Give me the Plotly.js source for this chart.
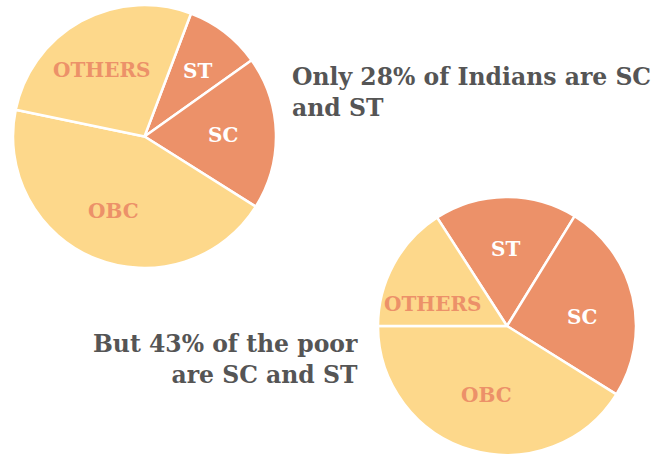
<!DOCTYPE html>
<html><head><meta charset="utf-8">
<script src="https://cdn.plot.ly/plotly-3.0.1.min.js"></script>
<style>html,body{margin:0;padding:0;background:#fff;}</style>
</head><body><div id="chart" style="width:669px;height:457px;"></div>
<script>
const categories = ["ST", "SC", "OBC", "OTHERS"];
const allIndians = [9.4, 18.8, 44.3, 27.5];
const poor = [17.9, 25.1, 41.1, 15.9];
const headline1 = "Only 28% of Indians are SC<br>and ST";
const headline2 = "But 43% of the poor<br>are SC and ST";

const orange = "#EC9169", yellow = "#FDD88B";
const colors = [orange, orange, yellow, yellow];
const labelColors = ["#ffffff", "#ffffff", orange, orange];
const fontFam = "DejaVu Serif, serif";

const W = 669, H = 457;
function dom(x0, x1, y0, y1) { return {x: [x0 / W, x1 / W], y: [1 - y1 / H, 1 - y0 / H]}; }

const base = {type: "pie", labels: categories, sort: false, direction: "clockwise",
  textinfo: "none", hoverinfo: "label+percent", showlegend: false,
  marker: {colors: colors, line: {color: "#ffffff", width: 2.5}}};

const traces = [
  Object.assign({}, base, {values: allIndians, rotation: 20.7, domain: dom(13, 276, 5, 268)}),
  Object.assign({}, base, {values: poor, rotation: -32.8, domain: dom(378, 636, 197, 455)})
];

const labelPos1 = [[197, 71], [223, 135], [113, 211], [102, 70]];
const labelPos2 = [[505, 249], [582, 317], [487, 395], [433, 304]];
const ann = [];
[labelPos1, labelPos2].forEach(pos => {
  categories.forEach((c, i) => ann.push({text: "<b>" + c + "</b>", x: pos[i][0] / W, y: 1 - pos[i][1] / H,
    xref: "paper", yref: "paper", showarrow: false, xanchor: "center", yanchor: "middle",
    font: {family: fontFam, size: 20, color: labelColors[i]}}));
});
ann.push({text: "<b>" + headline1 + "</b>", x: 290 / W, y: 1 - 92 / H, xref: "paper", yref: "paper",
  showarrow: false, xanchor: "left", yanchor: "middle", align: "left",
  font: {family: fontFam, size: 23.5, color: "#555555"}});
ann.push({text: "<b>" + headline2 + "</b>", x: 360 / W, y: 1 - 359 / H, xref: "paper", yref: "paper",
  showarrow: false, xanchor: "right", yanchor: "middle", align: "right",
  font: {family: fontFam, size: 23.5, color: "#555555"}});

Plotly.newPlot("chart", traces, {width: W, height: H, margin: {l: 0, r: 0, t: 0, b: 0},
  paper_bgcolor: "#ffffff", annotations: ann}, {displayModeBar: false});
</script></body></html>
